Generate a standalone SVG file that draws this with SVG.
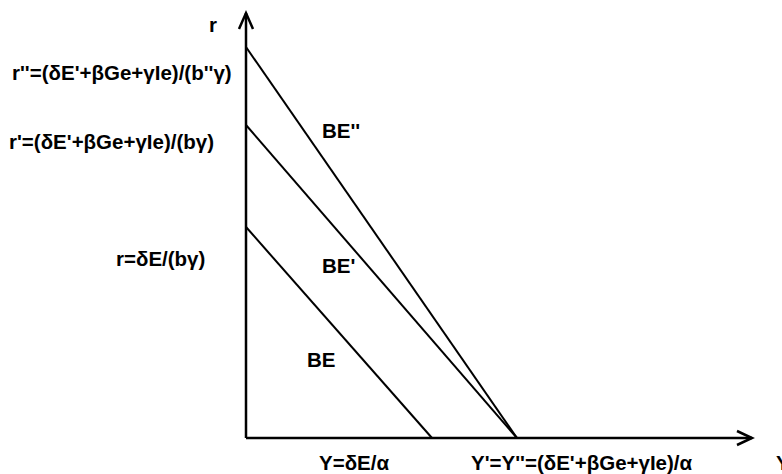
<svg xmlns="http://www.w3.org/2000/svg" width="782" height="474" viewBox="0 0 782 474">
<style>
text{font-family:"Liberation Sans",Arial,sans-serif;font-weight:bold;font-size:20.5px;fill:#000}
.ax{stroke:#000;stroke-width:2.5;fill:none}
.ln{stroke:#000;stroke-width:2;fill:none}
</style>
<rect width="782" height="474" fill="#fff"/>
<g id="axes">
<line class="ax" x1="246" y1="438" x2="246" y2="13"/>
<polyline class="ax" points="239,29 246,13 253,29"/>
<line class="ax" x1="246" y1="438" x2="752" y2="438"/>
<polyline class="ax" points="737,431 752,438 737,445"/>
</g>
<g id="connectors">
<line id="BEpp" class="ln" x1="246" y1="47" x2="517" y2="438"/>
<line id="BEp" class="ln" x1="246" y1="125" x2="517" y2="438"/>
<line id="BE" class="ln" x1="246" y1="227" x2="432" y2="438"/>
</g>
<g id="labels">
<text x="209" y="32">r</text>
<text x="12" y="80">r''=(δE'+βGe+γIe)/(b''γ)</text>
<text x="9" y="149">r'=(δE'+βGe+γIe)/(bγ)</text>
<text x="116" y="266">r=δE/(bγ)</text>
<text x="322" y="138">BE''</text>
<text x="322" y="273">BE'</text>
<text x="307" y="367">BE</text>
<text x="319" y="470">Y=δE/α</text>
<text x="471" y="470">Y'=Y''=(δE'+βGe+γIe)/α</text>
<text x="776" y="470">Y</text>
</g>
</svg>
